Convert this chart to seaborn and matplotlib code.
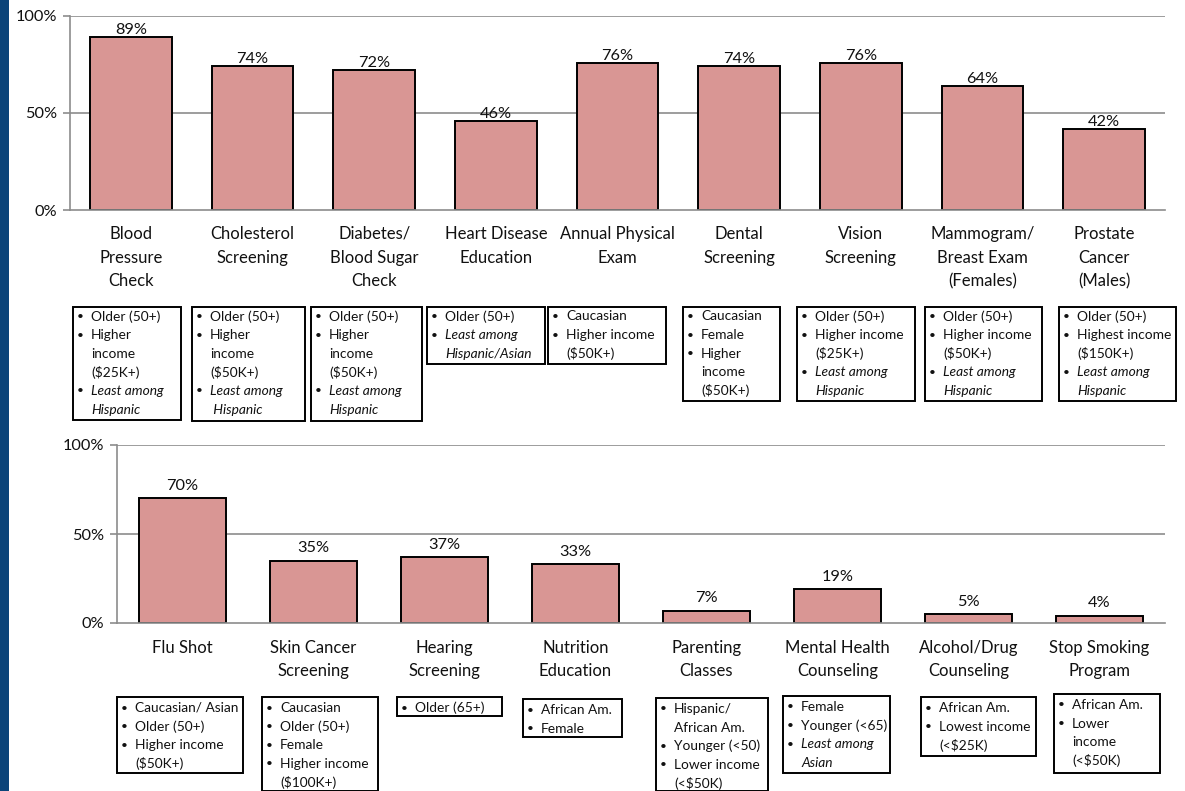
import pandas as pd
import numpy as np
import matplotlib
matplotlib.use("Agg")
import matplotlib.pyplot as plt
from matplotlib.patches import Rectangle
import seaborn as sns

# chart data
top_services = ["Blood\nPressure\nCheck", "Cholesterol\nScreening", "Diabetes/\nBlood Sugar\nCheck",
                "Heart Disease\nEducation", "Annual Physical\nExam", "Dental\nScreening",
                "Vision\nScreening", "Mammogram/\nBreast Exam\n(Females)", "Prostate\nCancer\n(Males)"]
top_pct = [89, 74, 72, 46, 76, 74, 76, 64, 42]

bottom_services = ["Flu Shot", "Skin Cancer\nScreening", "Hearing\nScreening", "Nutrition\nEducation",
                   "Parenting\nClasses", "Mental Health\nCounseling", "Alcohol/Drug\nCounseling",
                   "Stop Smoking\nProgram"]
bottom_pct = [70, 35, 37, 33, 7, 19, 5, 4]

y_ticks = [0, 50, 100]

# callout notes: (text, italic)
top_notes = [
    [("Older (50+)", False), ("Higher\nincome\n($25K+)", False), ("Least among\nHispanic", True)],
    [("Older (50+)", False), ("Higher\nincome\n($50K+)", False), ("Least among\n Hispanic", True)],
    [("Older (50+)", False), ("Higher\nincome\n($50K+)", False), ("Least among\nHispanic", True)],
    [("Older (50+)", False), ("Least among\nHispanic/Asian", True)],
    [("Caucasian", False), ("Higher income\n($50K+)", False)],
    [("Caucasian", False), ("Female", False), ("Higher\nincome\n($50K+)", False)],
    [("Older (50+)", False), ("Higher income\n($25K+)", False), ("Least among\nHispanic", True)],
    [("Older (50+)", False), ("Higher income\n($50K+)", False), ("Least among\nHispanic", True)],
    [("Older (50+)", False), ("Highest income\n($150K+)", False), ("Least among\nHispanic", True)],
]
bottom_notes = [
    [("Caucasian/ Asian", False), ("Older (50+)", False), ("Higher income\n($50K+)", False)],
    [("Caucasian", False), ("Older (50+)", False), ("Female", False), ("Higher income\n($100K+)", False)],
    [("Older (65+)", False)],
    [("African Am.", False), ("Female", False)],
    [("Hispanic/\nAfrican Am.", False), ("Younger (<50)", False), ("Lower income\n(<$50K)", False)],
    [("Female", False), ("Younger (<65)", False), ("Least among\nAsian", True)],
    [("African Am.", False), ("Lowest income\n(<$25K)", False)],
    [("African Am.", False), ("Lower\nincome\n(<$50K)", False)],
]

# box frames in pixels: left, right, top, bottom
top_boxes = [(73, 181, 307, 420), (192, 305, 307, 421), (311, 422, 307, 421),
             (427, 545, 307, 364), (548, 666, 307, 364), (683, 780, 307, 401),
             (797, 915, 307, 401), (925, 1042, 307, 401), (1059, 1176, 307, 401)]
bottom_boxes = [(117, 243, 697, 773), (262, 378, 697, 791), (397, 502, 697, 716),
                (523, 622, 699, 737), (656, 768, 698, 791), (783, 890, 696, 773),
                (921, 1036, 697, 756), (1054, 1160, 694, 773)]

W, H = 1185, 791
BAR = "#D99694"
GRID = "#8C8C8C"

sns.set_theme(style="white")
plt.rcParams["font.family"] = ["Lato", "DejaVu Sans"]

fig = plt.figure(figsize=(W / 100, H / 100), dpi=100)
fig.patch.set_facecolor("white")


def draw_chart(rect, names, values, label_gap, tick_pad):
    ax = fig.add_axes(rect)
    df = pd.DataFrame({"service": names, "pct": values})
    sns.barplot(data=df, x="service", y="pct", color=BAR, width=0.67,
                edgecolor="black", linewidth=1.4, saturation=1, ax=ax)
    n = len(names)
    ax.set_xlim(-0.5, n - 0.5)
    ax.set_ylim(0, 100)
    ax.set_yticks(y_ticks)
    ax.set_yticklabels([f"{t}%" for t in y_ticks], fontsize=11.8, color="#111111")
    ax.set_xticks(range(n))
    ax.set_xticklabels(names, fontsize=12, linespacing=1.58, color="#111111")
    ax.set_xticks(np.arange(n + 1) - 0.5, minor=True)
    ax.tick_params(axis="x", which="major", length=0, pad=tick_pad)
    ax.tick_params(axis="x", which="minor", length=5, width=1.2, color=GRID, direction="out")
    ax.tick_params(axis="y", length=5, width=1.2, color=GRID, direction="out", pad=4, left=True)
    ax.set_xlabel("")
    ax.set_ylabel("")
    for s in ["top", "right"]:
        ax.spines[s].set_visible(False)
    for s in ["left", "bottom"]:
        ax.spines[s].set_color(GRID)
        ax.spines[s].set_linewidth(1.2)
    for t in [50, 100]:
        ax.axhline(t, color=GRID, lw=1.2, zorder=0)
    for c in ax.containers:
        ax.bar_label(c, labels=[f"{v:.0f}%" for v in c.datavalues],
                     padding=label_gap, fontsize=11.8, color="#111111")
    return ax


draw_chart([70 / W, 1 - 210 / H, 1095 / W, 194 / H], top_services, top_pct, 0, 11.5)
draw_chart([117 / W, 1 - 623 / H, 1048 / W, 178 / H], bottom_services, bottom_pct, 4, 12)

# overlay for the callout boxes and the side strip
ov = fig.add_axes([0, 0, 1, 1], zorder=5)
ov.set_xlim(0, W)
ov.set_ylim(H, 0)
ov.axis("off")
ov.patch.set_alpha(0)
ov.add_patch(Rectangle((0, 0), 9, H, color="#0B4479", lw=0))


def draw_notes(boxes, notes, first):
    for (x0, x1, y0, y1), items in zip(boxes, notes):
        ov.add_patch(Rectangle((x0, y0), x1 - x0, y1 - y0, fill=False,
                               edgecolor="black", lw=1.4))
        row = 0
        for txt, ital in items:
            y = y0 + first + 18.6 * row
            ov.text(x0 + 7.5, y, "•", fontsize=8.5, va="center", ha="center", color="#111111")
            lines = txt.split("\n")
            for k, ln in enumerate(lines):
                ov.text(x0 + 18, y + 18.6 * k, ln, fontsize=9.9, va="center", ha="left",
                        style="italic" if ital else "normal", color="#111111")
            row += len(lines)


draw_notes(top_boxes, top_notes, 9.5)
draw_notes(bottom_boxes, bottom_notes, 11)

fig.savefig("out.png", dpi=100)
